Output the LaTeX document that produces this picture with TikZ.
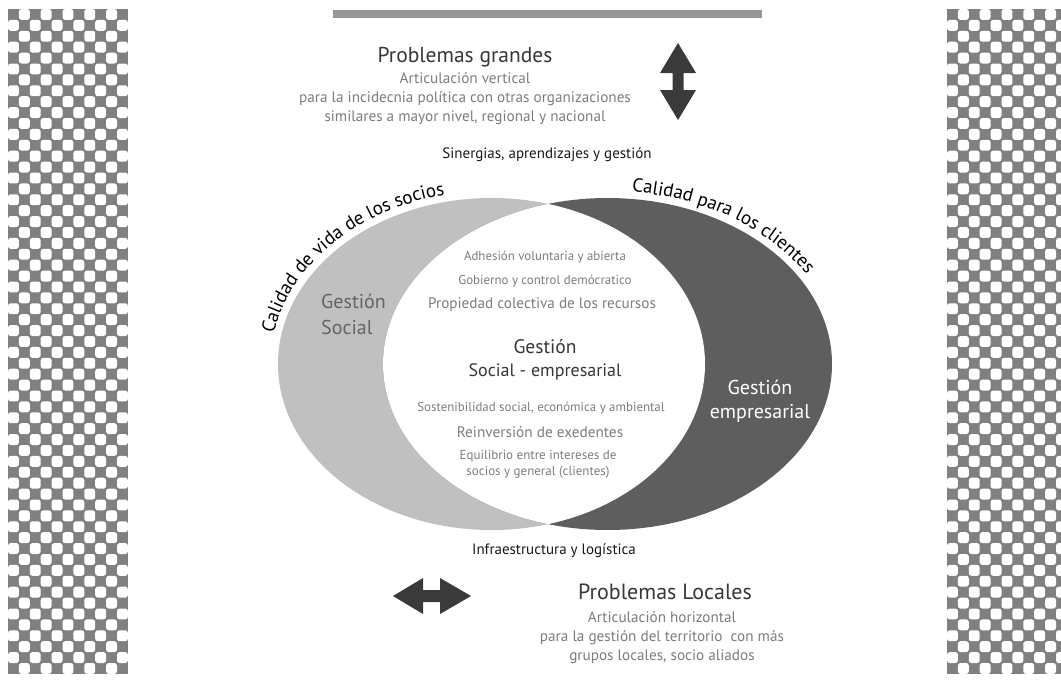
\documentclass[tikz,border=0pt]{standalone}
\usepackage{fontspec}
\setmainfont{PT Sans}
\usetikzlibrary{decorations.text}
\definecolor{lightg}{RGB}{192,192,192}
\definecolor{darkg}{RGB}{94,94,94}
\definecolor{checkg}{RGB}{128,128,128}
\definecolor{txtg}{RGB}{125,125,125}
\definecolor{txtd}{RGB}{55,55,55}
\definecolor{txtm}{RGB}{100,100,100}
\definecolor{arrowg}{RGB}{58,58,58}
\definecolor{barg}{RGB}{150,150,150}
\newcommand\fsz[2]{\fontsize{#1}{#2}\selectfont}
\begin{document}
\begin{tikzpicture}[x=1pt,y=-1pt,
  lbl/.style={inner sep=0pt, align=center, text=txtg},
  head/.style={inner sep=0pt, align=center, text=txtd},
  blk/.style={inner sep=0pt, align=center, text=black!90},
  cell/.style={fill=white, rounded corners=2.6pt},
  arrowicon/.style={fill=arrowg}]
\useasboundingbox (0,0) rectangle (1061,681);
\fill[white] (0,0) rectangle (1061,681);
% checkered strips
\def\s{10.9}
\fill[checkg] (8,9) rectangle (128,674);
\foreach \j in {0,2,...,60}{\foreach \i in {1,3,...,9}{\fill[cell] (8+\i*\s,9+\j*\s) rectangle ++(\s,\s);}}
\foreach \j in {1,3,...,59}{\foreach \i in {0,2,...,10}{\fill[cell] (8+\i*\s,9+\j*\s) rectangle ++(\s,\s);}}
\begin{scope}
\clip (947,0) rectangle (1061,681);
\fill[checkg] (947,9) rectangle (1061,674);
\foreach \j in {0,2,...,60}{\foreach \i in {1,3,...,11}{\fill[cell] (947+\i*\s,9+\j*\s) rectangle ++(\s,\s);}}
\foreach \j in {1,3,...,59}{\foreach \i in {0,2,...,10}{\fill[cell] (947+\i*\s,9+\j*\s) rectangle ++(\s,\s);}}
\end{scope}
% top bar
\fill[barg] (333,10) rectangle (762,18);
% ellipses
\fill[lightg] (491.5,364) ellipse [x radius=213.5pt, y radius=166pt];
\fill[darkg] (607.5,364) ellipse [x radius=224.5pt, y radius=166pt];
\begin{scope}
\clip (491.5,364) ellipse [x radius=213.5pt, y radius=166pt];
\fill[white] (607.5,364) ellipse [x radius=224.5pt, y radius=166pt];
\end{scope}
% arc texts
\path[decorate, decoration={text along path, text align=center,
  text={|\fsz{19}{19}\color{black}|Calidad de vida de los socios}}]
  ([shift={(491.5,364)}]188:221pt and 173pt) arc[start angle=188, end angle=88, x radius=221pt, y radius=173pt];
\path[decorate, decoration={text along path, text align=left,
  text={|\fsz{19}{19}\color{black}|Calidad para los clientes}}]
  ([shift={(607.5,364)}]84:232.5pt and 173pt) arc[start angle=84, end angle=5, x radius=232.5pt, y radius=173pt];
% arrows
\fill[arrowicon] (678,43) -- (696,73) -- (683.5,73) -- (683.5,90) -- (696,90) -- (678,120)
  -- (660,90) -- (672.5,90) -- (672.5,73) -- (660,73) -- cycle;
\fill[arrowicon] (393,596) -- (423,578) -- (423,590) -- (440,590) -- (440,578) -- (471,596)
  -- (440,614) -- (440,602) -- (423,602) -- (423,614) -- cycle;
% top texts
\node[head, font=\fsz{21.5}{21.5}] (pg) at (465,57) {Problemas grandes};
\node[lbl, font=\fsz{15.2}{19}] (pgd) at (465,99) {Articulación vertical\\para la incidecnia política con otras organizaciones\\similares a mayor nivel, regional y nacional};
\node[blk, font=\fsz{15}{15}] (sin) at (547,155) {Sinergias, aprendizajes y gestión};
% inner texts
\node[lbl, font=\fsz{12.9}{13}] (adh) at (545,257) {Adhesión voluntaria y abierta};
\node[lbl, font=\fsz{12.9}{13}] (gob) at (545,281) {Gobierno y control demócratico};
\node[lbl, font=\fsz{15.2}{15}] (pro) at (542,305) {Propiedad colectiva de los recursos};
\node[head, font=\fsz{19.5}{19.5}] (gse1) at (545,347) {Gestión};
\node[head, font=\fsz{18}{18}] (gse2) at (545,372) {Social - empresarial};
\node[lbl, font=\fsz{12.9}{13}] (sos) at (541,408) {Sostenibilidad social, económica y ambiental};
\node[lbl, font=\fsz{15.3}{15}] (rei) at (540,432) {Reinversión de exedentes};
\node[lbl, font=\fsz{13}{16}] (equ) at (538,464) {Equilibrio entre intereses de\\socios y general (clientes)};
\node[inner sep=0pt, align=left, text=txtm, font=\fsz{20}{26}, anchor=west] (gs) at (321,314) {Gestión\\Social};
\node[inner sep=0pt, align=center, text=white, font=\fsz{20}{24}] (ge) at (760,401) {Gestión\\empresarial};
% bottom texts
\node[blk, font=\fsz{15}{15}] (inf) at (554,551) {Infraestructura y logística};
\node[head, font=\fsz{22}{22}] (pl) at (665,592) {Problemas Locales};
\node[lbl, font=\fsz{15.2}{19}] (pld) at (662,638) {Articulación horizontal\\para la gestión del territorio~ con más\\grupos locales, socio aliados};
\end{tikzpicture}
\end{document}
